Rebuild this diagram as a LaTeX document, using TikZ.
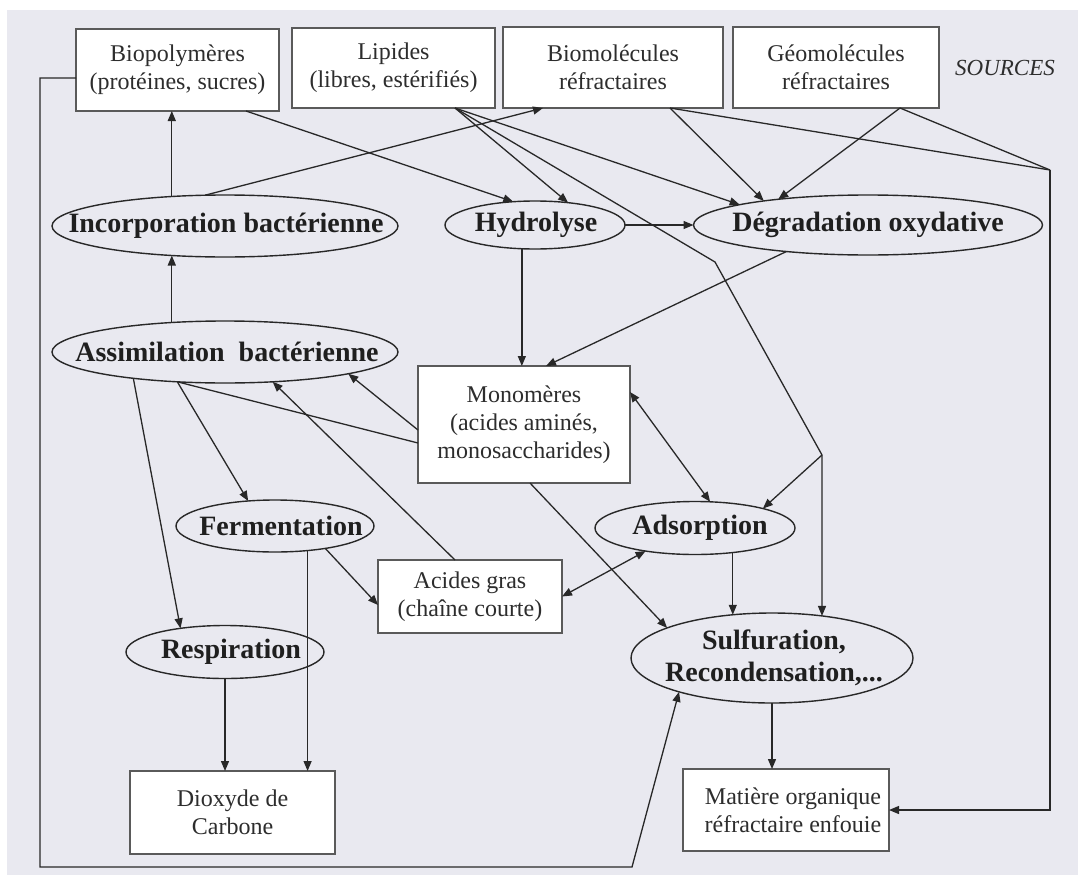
\documentclass[tikz,border=0pt]{standalone}
\usepackage{fontspec}
\setmainfont{Liberation Serif}
\usetikzlibrary{shapes.geometric,arrows.meta,calc}
\definecolor{bgc}{RGB}{233,233,240}
\definecolor{ln}{RGB}{40,40,40}
\definecolor{bx}{RGB}{90,90,90}
\definecolor{tx}{RGB}{45,45,45}
\begin{document}
\begin{tikzpicture}[x=1pt,y=-1pt,
  box/.style={rectangle, draw=bx, line width=1.6pt, fill=white, inner sep=2pt, outer sep=0pt, align=center, font=\fontsize{24}{28}\selectfont, text=tx},
  ell/.style={ellipse, draw=ln, line width=1.4pt, inner sep=0pt, outer sep=0pt},
  bt/.style={font=\bfseries\fontsize{28}{32}\selectfont, text=black!88, align=center, inner sep=0pt},
  con/.style={draw=ln, line width=1.3pt},
  arr/.style={con, -{Triangle[length=10pt,width=8pt]}},
  darr/.style={con, {Triangle[length=10pt,width=8pt]}-{Triangle[length=10pt,width=8pt]}},
]
\useasboundingbox (0,0) rectangle (1078,875);
\fill[white] (0,0) rectangle (1078,875);
\fill[bgc] (7,10) rectangle (1078,875);

% source boxes
\node[box, minimum width=203pt, minimum height=82pt] (bio) at (177.5,70) {Biopolymères\\(protéines, sucres)};
\node[box, minimum width=203pt, minimum height=80pt] (lip) at (393.5,68) {Lipides\\(libres, estérifiés)};
\node[box, minimum width=220pt, minimum height=81pt] (biom) at (613,67.5) {Biomolécules\\réfractaires};
\node[box, minimum width=206pt, minimum height=81pt] (geom) at (836,67.5) {Géomolécules\\réfractaires};
\node[font=\itshape\fontsize{23}{27}\selectfont, text=tx, anchor=west, inner sep=0pt] (src) at (955,68) {SOURCES};

% processes
\node[ell, minimum width=346pt, minimum height=62pt] (incorp) at (225,226) {};
\node[bt] (incorpT) at (226,226) {Incorporation bactérienne};
\node[ell, minimum width=180pt, minimum height=48pt] (hydro) at (535,225) {};
\node[bt] (hydroT) at (536,225) {Hydrolyse};
\node[ell, minimum width=349pt, minimum height=60pt] (degr) at (868,225) {};
\node[bt] (degrT) at (868,225) {Dégradation oxydative};
\node[ell, minimum width=346pt, minimum height=62pt] (assim) at (225,352) {};
\node[bt] (assimT) at (227,352) {Assimilation~~bactérienne};
\node[box, minimum width=212pt, minimum height=117pt] (mono) at (524,424.5) {Monomères\\(acides aminés,\\monosaccharides)};
\node[ell, minimum width=198pt, minimum height=52pt] (ferm) at (275,526) {};
\node[bt] (fermT) at (281,526) {Fermentation};
\node[ell, minimum width=200pt, minimum height=53pt] (adso) at (695,528) {};
\node[bt] (adsoT) at (700,528) {Adsorption};
\node[box, minimum width=184pt, minimum height=73pt] (acides) at (470,596.5) {Acides gras\\(chaîne courte)};
\node[ell, minimum width=198pt, minimum height=53pt] (resp) at (225,652) {};
\node[bt] (respT) at (231,652) {Respiration};
\node[ell, minimum width=282pt, minimum height=90pt] (sulf) at (772,658) {};
\node[bt] (sulfT) at (774,658) {Sulfuration,\\Recondensation,...};
\node[box, minimum width=205pt, minimum height=83pt] (co2) at (232.5,812.5) {Dioxyde de\\Carbone};
\node[box, minimum width=206pt, minimum height=82pt] (mat) at (786,810) {};
\node[font=\fontsize{24}{28}\selectfont, text=tx, align=center, inner sep=0pt] (matT) at (793,810) {Matière organique\\réfractaire enfouie};

% helper coordinates
\coordinate (b1) at (715,262);
\coordinate (j1) at (822,455);
\coordinate (j2) at (1050,170);
\coordinate (L1) at (40,78);
\coordinate (L2) at (40,867);
\coordinate (L3) at (632,867);

% connectors
\draw[arr] (incorp.151) -- (incorp.151 |- bio.south);
\draw[arr] (assim.151) -- (incorp.-151);
\draw[arr] (incorp.123) -- ([xshift=-70pt]biom.south);
\draw[arr] ([xshift=68.5pt]bio.south) -- (hydro.133);
\draw[arr] ([xshift=61.5pt]lip.south) -- (hydro.34);
\draw[arr] ([xshift=61.5pt]lip.south) -- (degr.171);
\draw[arr] ([xshift=61.5pt]lip.south) -- (b1) -- (j1) -- (j1 |- sulf.40);
\draw[arr] (j1) -- (adso.16);
\draw[arr] ([xshift=57pt]biom.south) -- (degr.167);
\draw[arr] ([xshift=64pt]geom.south) -- (degr.164);
\draw[con] ([xshift=57pt]biom.south) -- (j2);
\draw[con] ([xshift=64pt]geom.south) -- (j2);
\draw[arr] (j2) -- (j2 |- mat.east) -- (mat.east);
\draw[arr] (hydro.east) -- (degr.west);
\draw[arr] (hydro.-119) -- (hydro.-119 |- mono.north);
\draw[arr] (degr.-162) -- ([xshift=22pt]mono.north);
\draw[arr] ([yshift=-5.5pt]mono.west) -- (assim.-10.5);
\draw[con] (assim.-148) -- ([yshift=-18.5pt]mono.west);
\draw[arr] (assim.-148) -- (ferm.137);
\draw[arr] (assim.-164) -- (resp.152);
\draw[arr] ([xshift=-15pt]acides.north) -- (assim.-32);
\draw[arr] (ferm.-24) -- ([yshift=-8.5pt]acides.west);
\draw[arr] (ferm.-37.5) -- (ferm.-37.5 |- co2.north);
\draw[arr] (resp.south) -- (resp.south |- co2.north);
\draw[darr] ([yshift=32.5pt]mono.east) -- (adso.60);
\draw[darr] (adso.-155) -- (acides.east);
\draw[arr] ([xshift=6pt]mono.south) -- (sulf.164);
\draw[arr] (adso.-33) -- (adso.-33 |- sulf.132);
\draw[arr] (sulf.south) -- (sulf.south |- mat.north);
\draw[arr] ([yshift=-8pt]bio.west) -- (L1) -- (L2) -- (L3) -- (sulf.-160);
\end{tikzpicture}
\end{document}
